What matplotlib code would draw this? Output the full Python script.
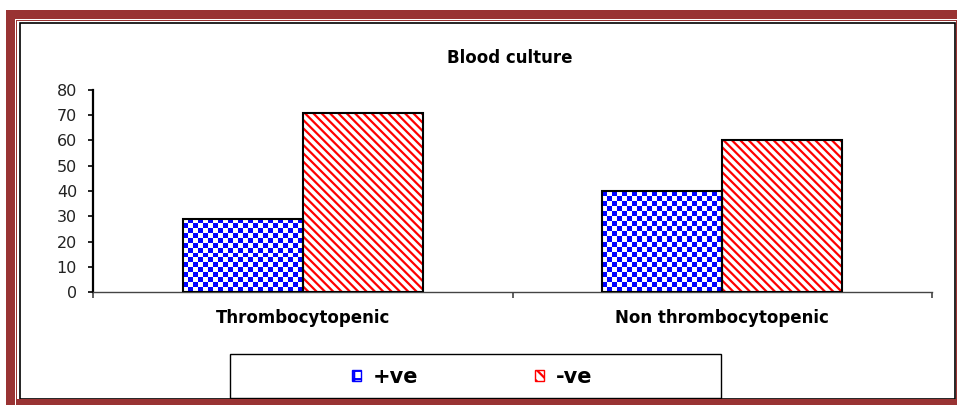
import numpy as np
import matplotlib
matplotlib.use('Agg')
import matplotlib.pyplot as plt
from matplotlib.patches import Rectangle, Patch
from matplotlib.colors import ListedColormap

# data
categories = ['Thrombocytopenic', 'Non thrombocytopenic']
pos_values = [29, 40]
neg_values = [71, 60]
series_labels = ['+ve', '-ve']
yticks = [0, 10, 20, 30, 40, 50, 60, 70, 80]

W, H = 957, 405
BORDER = '#993333'

plt.rcParams['font.family'] = ['DejaVu Sans']
plt.rcParams['hatch.linewidth'] = 1.6

fig = plt.figure(figsize=(W / 100, H / 100), dpi=100)


def fx(x):
    return x / W


def fy(y):
    return 1 - y / H


def rect(x0, y0, x1, y1, **kw):
    # pixel box, origin at top left
    r = Rectangle((fx(x0), fy(y1)), (x1 - x0) / W, (y1 - y0) / H,
                  transform=fig.transFigure, **kw)
    fig.add_artist(r)
    return r


# ----------------------------------
# page border
# ----------------------------------
rect(6, 10, 957, 19, facecolor=BORDER, edgecolor='none', zorder=5)
rect(6, 10, 15, 405, facecolor=BORDER, edgecolor='none', zorder=5)
rect(16, 20, 957, 21, facecolor=BORDER, edgecolor='none', zorder=5)
rect(16, 20, 17, 405, facecolor=BORDER, edgecolor='none', zorder=5)
rect(956, 20, 957, 405, facecolor=BORDER, edgecolor='none', zorder=5)
rect(17, 399, 957, 405, facecolor=BORDER, edgecolor='none', zorder=5)
rect(20, 23, 955, 399, facecolor='none', edgecolor='black', linewidth=1.2, zorder=4)

# ----------------------------------
# axes
# ----------------------------------
ax = fig.add_axes([fx(93), fy(292), (932 - 93) / W, (292 - 90) / H])
x = np.arange(len(categories))
bw = 0.286

ax.set_xlim(-0.5, len(categories) - 0.5)
ax.set_ylim(0, 80)

pos_bars = ax.bar(x - bw / 2, pos_values, bw, facecolor='white', edgecolor='none', zorder=2)
ax.bar(x + bw / 2, neg_values, bw, facecolor='white', edgecolor='red',
       hatch='\\\\\\\\', linewidth=0, zorder=2)

# checkerboard fill for the +ve bars
cell = 5
checker_cmap = ListedColormap(['white', 'blue'])
for p in pos_bars:
    x0, y0 = p.get_x(), p.get_y()
    w, h = p.get_width(), p.get_height()
    (px0, py0), (px1, py1) = ax.transData.transform([(x0, y0), (x0 + w, y0 + h)])
    ncols = max(1, int(round((px1 - px0) / cell)))
    nrows = max(1, int(round((py1 - py0) / cell)))
    grid = (np.add.outer(np.arange(nrows), np.arange(ncols)) % 2).astype(float)
    im = ax.imshow(grid, cmap=checker_cmap, origin='lower', aspect='auto',
                   extent=(x0, x0 + w, y0, y0 + h), interpolation='nearest',
                   zorder=2.5)
    im.set_clip_path(p)

# outlines on top
ax.bar(x - bw / 2, pos_values, bw, facecolor='none', edgecolor='black', linewidth=1.5, zorder=3)
ax.bar(x + bw / 2, neg_values, bw, facecolor='none', edgecolor='black', linewidth=1.5, zorder=3)

ax.set_xlim(-0.5, len(categories) - 0.5)
ax.set_ylim(0, 80)

ax.set_yticks(yticks)
ax.tick_params(axis='y', direction='out', length=3.5, width=1.2, pad=8,
               labelsize=11.5, labelcolor='#222222')
ax.set_xticks(x)
ax.set_xticklabels(categories, fontsize=12, fontweight='bold')
ax.tick_params(axis='x', which='major', length=0, pad=12)
ax.set_xticks(np.arange(len(categories) + 1) - 0.5, minor=True)
ax.tick_params(axis='x', which='minor', direction='out', length=4, width=1.2, color='#444444')

for s in ['top', 'right']:
    ax.spines[s].set_visible(False)
ax.spines['left'].set_linewidth(1.6)
ax.spines['left'].set_color('black')
ax.spines['bottom'].set_linewidth(1.0)
ax.spines['bottom'].set_color('#444444')

# title
fig.text(fx(510), fy(63), 'Blood culture', ha='center', va='baseline',
         fontsize=12, fontweight='bold')

# ----------------------------------
# legend
# ----------------------------------
rect(230, 354, 721, 398, facecolor='white', edgecolor='black', linewidth=1.0, zorder=3)
handles = [
    Patch(facecolor='white', edgecolor='blue', hatch='++', linewidth=1),
    Patch(facecolor='white', edgecolor='red', hatch='\\\\\\', linewidth=1),
]
leg = fig.legend(handles, series_labels, loc='center',
                 bbox_to_anchor=(fx(472), fy(377)), ncol=2, frameon=False,
                 prop=dict(family='DejaVu Sans', weight='bold', size=15),
                 handlelength=0.45, handleheight=0.45, handletextpad=0.55,
                 columnspacing=5.6)
leg.set_zorder(4)

plt.savefig('out.png', dpi=100)
